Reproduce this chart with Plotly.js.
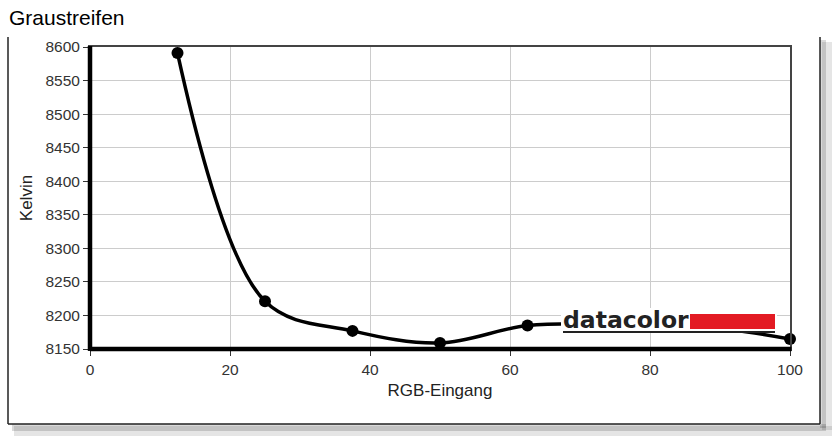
<!DOCTYPE html>
<html>
<head>
<meta charset="utf-8">
<script src="https://cdn.plot.ly/plotly-3.0.1.min.js"></script>
<style>html,body{margin:0;padding:0;background:#fff;}#chart{width:836px;height:439px;}</style>
</head>
<body>
<div id="chart"></div>
<script>
const rgbInput = [12.5, 25, 37.5, 50, 62.5, 75, 87.5, 100];
const kelvin = [8591, 8221, 8177, 8159, 8185, 8187, 8184, 8165];
const xTicks = [0, 20, 40, 60, 80, 100];
const yTicks = [8150, 8200, 8250, 8300, 8350, 8400, 8450, 8500, 8550, 8600];

const W = 836, H = 439, L = 90, R = 46, T = 47, B = 90;
const pw = W - L - R, ph = H - T - B;
const px = v => (v - L) / pw;
const py = v => (H - B - v) / ph;

const trace = {
  x: rgbInput, y: kelvin, type: 'scatter', mode: 'lines+markers',
  line: {color: '#000', width: 3.5, shape: 'spline', smoothing: 1},
  marker: {color: '#000', size: 12},
  cliponaxis: false, hoverinfo: 'skip'
};

const shapes = [
  // frame shadow
  {type:'rect', xref:'paper', yref:'paper', x0:px(822), x1:px(832), y0:py(430), y1:py(42), fillcolor:'rgba(0,0,0,0.10)', line:{width:0}, layer:'below'},
  {type:'rect', xref:'paper', yref:'paper', x0:px(14), x1:px(832), y0:py(436), y1:py(426), fillcolor:'rgba(0,0,0,0.10)', line:{width:0}, layer:'below'},
  {type:'rect', xref:'paper', yref:'paper', x0:px(820), x1:px(826), y0:py(428), y1:py(40), fillcolor:'rgba(0,0,0,0.15)', line:{width:0}, layer:'below'},
  {type:'rect', xref:'paper', yref:'paper', x0:px(12), x1:px(826), y0:py(431), y1:py(424), fillcolor:'rgba(0,0,0,0.15)', line:{width:0}, layer:'below'},
  // frame
  {type:'line', xref:'paper', yref:'paper', x0:px(8), x1:px(8), y0:py(37), y1:py(424), line:{color:'#222', width:1.5}},
  {type:'line', xref:'paper', yref:'paper', x0:px(820), x1:px(820), y0:py(37), y1:py(424), line:{color:'#222', width:1.5}},
  {type:'line', xref:'paper', yref:'paper', x0:px(8), x1:px(820), y0:py(424), y1:py(424), line:{color:'#222', width:1.5}},
  // thick left and bottom axes
  {type:'line', xref:'paper', yref:'paper', x0:0, x1:0, y0:-0.006, y1:1.003, line:{color:'#000', width:4.5}},
  {type:'line', xref:'paper', yref:'paper', x0:0, x1:1.002, y0:0, y1:0, line:{color:'#000', width:4.5}},
  // logo cover
  {type:'rect', xref:'paper', yref:'paper', x0:px(561), x1:px(777), y0:py(333), y1:py(308), fillcolor:'#fff', line:{width:0}, layer:'above'},
  // red bar
  {type:'rect', xref:'paper', yref:'paper', x0:px(690), x1:px(775), y0:py(329), y1:py(314), fillcolor:'#e31b23', line:{width:0}, layer:'above'},
  // underline
  {type:'line', xref:'paper', yref:'paper', x0:px(563), x1:px(775), y0:py(332), y1:py(332), line:{color:'#222', width:2}, layer:'above'}
];

const layout = {
  width: W, height: H,
  margin: {l: L, r: R, t: T, b: B},
  paper_bgcolor: '#fff', plot_bgcolor: '#fff',
  showlegend: false,
  font: {family: 'Liberation Sans, Arial, sans-serif', color: '#333', size: 15.5},
  title: {text: 'Graustreifen', x: 9/W, xanchor: 'left', xref: 'container', y: 1 - 18/H, yanchor: 'middle', font: {size: 21, color: '#000'}},
  xaxis: {
    range: [0, 100], tickvals: xTicks, ticktext: xTicks.map(String),
    showgrid: true, gridcolor: '#cccccc', gridwidth: 1,
    showline: true, mirror: true, linecolor: '#444', linewidth: 2,
    ticks: 'outside', ticklen: 5, tickcolor: '#333', tickwidth: 1,
    zeroline: false, fixedrange: true,
    title: {text: 'RGB-Eingang', font: {size: 17, color: '#222'}, standoff: 8}
  },
  yaxis: {
    range: [8150, 8600], tickvals: yTicks, ticktext: yTicks.map(String),
    showgrid: true, gridcolor: '#cccccc', gridwidth: 1,
    showline: true, mirror: true, linecolor: '#444', linewidth: 2,
    ticks: 'outside', ticklen: 5, tickcolor: '#333', tickwidth: 1,
    zeroline: false, fixedrange: true,
    title: {text: 'Kelvin', font: {size: 17, color: '#222'}, standoff: 8}
  },
  shapes: shapes,
  annotations: [
    {xref:'paper', yref:'paper', x: px(561), y: py(320), xanchor:'left', yanchor:'middle', showarrow:false,
     text:'<b>datacolor</b>', font:{family:'DejaVu Sans, sans-serif', size: 23.5, color:'#222'}}
  ]
};

Plotly.newPlot('chart', [trace], layout, {displayModeBar: false, staticPlot: true});
</script>
</body>
</html>
